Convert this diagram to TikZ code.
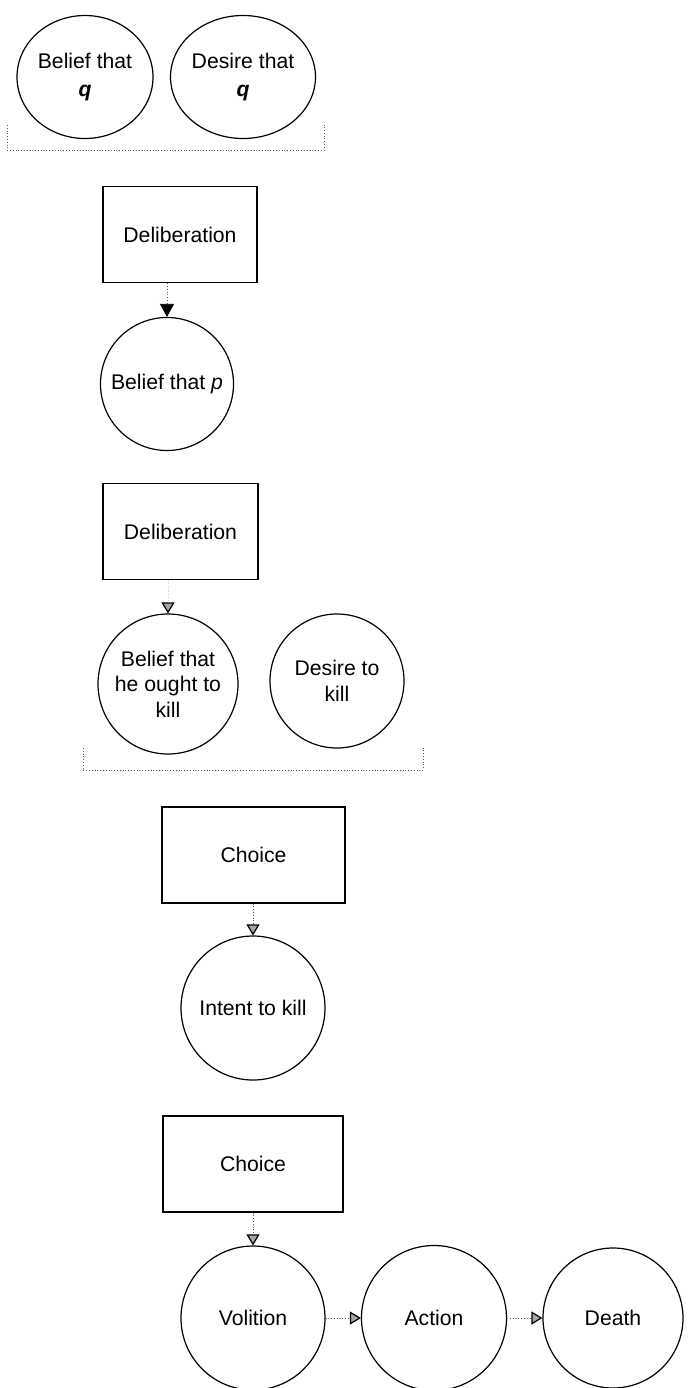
\documentclass[tikz,border=0pt]{standalone}
\usepackage{fontspec}
\setmainfont{Liberation Sans}
\usetikzlibrary{arrows.meta}
\usetikzlibrary{shapes.geometric}
\usetikzlibrary{positioning}

\tikzset{
	state/.style={draw, circle, line width=0.6pt, align=center, inner sep=0pt, minimum size=#1, font=\fontsize{10.6}{12.8}\selectfont},
	wish/.style={draw, ellipse, line width=0.6pt, align=center, inner sep=0pt, minimum width=#1, minimum height=61.5pt, font=\fontsize{10.6}{14}\selectfont},
	proc/.style={draw, rectangle, line width=0.6pt, minimum width=#1, minimum height=48pt, font=\fontsize{10.6}{12.8}\selectfont},
	flow/.style={densely dotted, gray!70!black, line width=0.4pt, -{Triangle[length=5.5pt, width=6.5pt, color=black, fill=gray!70, line width=0.6pt]}},
	group/.style={densely dotted, gray!70!black, line width=0.4pt}
}

\begin{document}
\begin{tikzpicture}
		[x=0.5pt, y=-0.5pt]
		\useasboundingbox (0,0) rectangle (688,1388);
		\coordinate (a) at (85,77);
		\coordinate (b) at (243,77);
		\draw (a) node[wish=68pt] (bq) {Belief that\\{\bfseries\itshape q}};
		\draw (b) node[wish=67pt] (dq) {Desire that\\{\bfseries\itshape q}};
		\draw[group] (7,125) -- (7,150) -- (324,150) -- (324,125);
		% first deliberation
		\draw (180,234.5) node[proc=77pt] (d1) {Deliberation};
		\draw (167,384) node[state=66.5pt] (bp) {Belief that \textit{p}};
		\draw[flow, -{Triangle[length=6.5pt, width=7pt, color=black, fill=black]}] (d1.south -| bp.north) -- (bp.north);
		% second deliberation
		\draw (180.5,531.5) node[proc=77.5pt] (d2) {Deliberation};
		\coordinate (c) at (168,684);
		\coordinate (d) at (337,681);
		\draw (c) node[state=70pt] (bk) {Belief that\\he ought to\\kill};
		\draw (d) node[state=67pt] (dk) {Desire to\\kill};
		\draw[flow, gray!40] (d2.south -| bk.north) -- (bk.north);
		\draw[group] (83,748) -- (83,770) -- (423,770) -- (423,748);
		% choices
		\draw (253.5,855) node[proc=91.5pt] (c1) {Choice};
		\draw (253,1008) node[state=72pt] (ik) {Intent to kill};
		\draw[flow] (c1.south -| ik.north) -- (ik.north);
		\draw (253,1164) node[proc=90pt] (c2) {Choice};
		\coordinate (e) at (253,1318);
		\coordinate (f) at (434,1318);
		\coordinate (g) at (613,1318);
		\draw (e) node[state=72pt] (vo) {Volition};
		\draw (f) node[state=72.5pt] (ac) {Action};
		\draw (g) node[state=70pt] (de) {Death};
		\draw[flow] (c2.south -| vo.north) -- (vo.north);
		\draw[flow] (vo) -- (ac);
		\draw[flow] (ac) -- (de);
	\end{tikzpicture}
\end{document}
